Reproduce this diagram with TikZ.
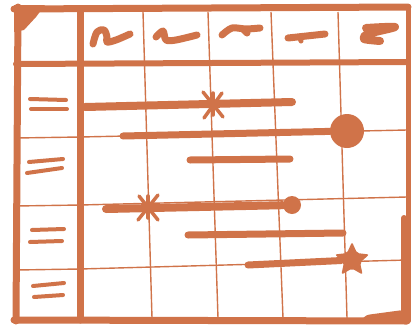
\documentclass[tikz,border=0pt]{standalone}
\usetikzlibrary{shapes.geometric}
\definecolor{skorange}{HTML}{D07349}

\begin{document}
\begin{tikzpicture}[
  x=1pt, y=-1pt,
  frame/.style={draw=skorange, line width=7pt, line cap=round, line join=round},
  rule/.style={draw=skorange, line width=6pt, line cap=round},
  gridline/.style={draw=skorange, line width=1.4pt},
  bar/.style={draw=skorange, line width=8pt, line cap=round},
  scrib/.style={draw=skorange, line width=7pt, line cap=round, line join=round},
  rowdash/.style={draw=skorange, line width=4pt, line cap=round},
  spark/.style={draw=skorange, line width=3.5pt, line cap=round},
  bigdot/.style={circle, fill=skorange, inner sep=0pt, minimum size=34pt},
  smalldot/.style={circle, fill=skorange, inner sep=0pt, minimum size=18pt},
  goal/.style={star, star points=5, star point ratio=2.1, fill=skorange,
               inner sep=0pt, minimum size=36pt, rounded corners=2pt},
]
\useasboundingbox (0,0) rectangle (412,327);

%% Thin grid lines
\draw[gridline] (143,12) -- (152,318);
\draw[gridline] (208,12) -- (218,318);
\draw[gridline] (271,12) -- (283,318);
\draw[gridline] (338,12) -- (347,318);
\draw[gridline] (16,138) -- (80,137) -- (407,130);
\draw[gridline] (16,206) -- (80,205) -- (407,197);
\draw[gridline] (16,270) -- (80,269) -- (407,260);

%% Outer frame
\draw[frame] (14,9) -- (408,7);
\draw[frame] (18,7) -- (16,321);
\draw[frame] (14,320) -- (407,321);
\draw[frame, line width=5pt] (408,7) -- (408,321);
\draw[frame, line width=6pt] (404,218) -- (404,320);
\fill[skorange] (14,5) -- (45,5) -- (36,17) -- (24,30) -- (14,32) -- cycle;
\fill[skorange, rounded corners=3pt] (360,322) -- (366,315) -- (403,310) -- (407,323) -- cycle;

%% Header rule and label column rule
\draw[rule] (16,64) -- (407,62);
\draw[rule, line width=7pt] (80,10) -- (80,320);

%% Header scribbles
\draw[scrib] plot[smooth, tension=0.6] coordinates {(93,44) (97,32) (104,30) (107,37) (107,42) (116,40) (130,34)};
\draw[scrib] plot[smooth] coordinates {(156,37) (163,31) (166,40) (176,40) (197,35)};
\draw[scrib] plot[smooth] coordinates {(222,35) (232,28) (246,29) (260,28)};
\draw[scrib] (243,29) -- (247,33);
\draw[scrib] (288,38) -- (325,34);
\draw[scrib, line width=5pt] (300,38) -- (301,41);
\draw[scrib, line width=8pt] plot[smooth] coordinates {(366,28) (395,27) (368,34) (364,39) (380,41)};

%% Row labels
\draw[rowdash] (30,99) -- (66,100);
\draw[rowdash] (31,109) -- (67,109);
\draw[rowdash] (29,162) -- (63,159);
\draw[rowdash] (27,173) -- (62,168);
\draw[rowdash] (32,230) -- (64,229);
\draw[rowdash] (30,242) -- (62,241);
\draw[rowdash] (33,286) -- (64,283);
\draw[rowdash] (34,297) -- (63,295);

%% Milestones
\node[bigdot]   (done)  at (347,131) {};
\node[smalldot] (check) at (292,205) {};
\node[goal]     (final) at (352,260) {};
\coordinate (spark1) at (213,105);
\coordinate (spark2) at (148,208);

%% Task bars
\coordinate (t1) at (85,107);
\coordinate (t2) at (123,136);
\coordinate (t3) at (190,160);
\coordinate (t4) at (106,209);
\coordinate (t5) at (188,235);
\coordinate (t6) at (248,265);
\draw[bar] (t1) -- (292,102);
\draw[bar, line width=7pt] (t2) -- (done);
\draw[bar, line width=7pt] (t3) -- (290,159);
\draw[bar] (t4) -- (check);
\draw[bar, line width=7pt] (t5) -- (343,233);
\draw[bar, line width=7pt] (t6) -- (final);

%% Asterisks on bars
\draw[spark] (spark1) ++(-10,-13) -- ++(20,25);
\draw[spark] (spark1) ++(9,-12) -- ++(-18,25);
\draw[spark] (spark1) ++(0,-12) -- ++(0,22);
\draw[spark] (spark2) ++(-9,-12) -- ++(19,24);
\draw[spark] (spark2) ++(10,-13) -- ++(-20,25);
\draw[spark] (spark2) ++(0,-12) -- ++(0,22);

\end{tikzpicture}
\end{document}
